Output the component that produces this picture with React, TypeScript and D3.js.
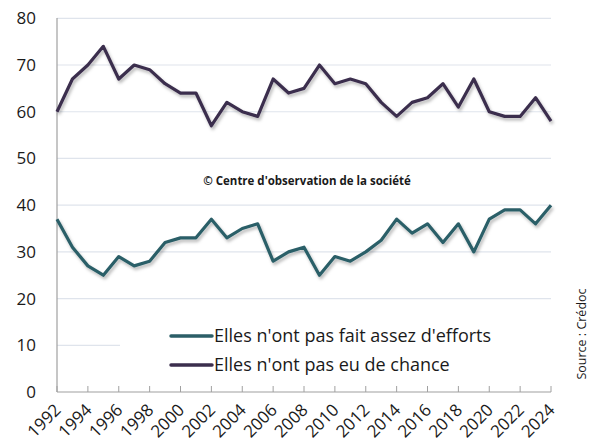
import React from "react";
import * as d3 from "d3";

const years: number[] = [1992,1993,1994,1995,1996,1997,1998,1999,2000,2001,2002,2003,2004,2005,2006,2007,2008,2009,2010,2011,2012,2013,2014,2015,2016,2017,2018,2019,2020,2021,2022,2023,2024];
const effortsValues: number[] = [37,31,27,25,29,27,28,32,33,33,37,33,35,36,28,30,31,25,29,28,30,32.5,37,34,36,32,36,30,37,39,39,36,40];
const chanceValues: number[] = [60,67,70,74,67,70,69,66,64,64,57,62,60,59,67,64,65,70,66,67,66,62,59,62,63,66,61,67,60,59,59,63,58];
const yTicks: number[] = [0,10,20,30,40,50,60,70,80];
const xTickYears: number[] = [1992,1994,1996,1998,2000,2002,2004,2006,2008,2010,2012,2014,2016,2018,2020,2022,2024];
const seriesNames: string[] = ["Elles n'ont pas fait assez d'efforts", "Elles n'ont pas eu de chance"];
const seriesColors: string[] = ["#2b5e67", "#3b2e4d"];

export default function App() {
  const W = 592, H = 443;
  const x = d3.scaleLinear().domain([1992, 2024]).range([57, 551]);
  const y = d3.scaleLinear().domain([0, 80]).range([392, 18.3]);
  const line = d3.line<number>().x((_, i) => x(years[i])).y((v) => y(v));
  const series = [effortsValues, chanceValues];
  const font = "'Open Sans', 'DejaVu Sans', sans-serif";
  return (
    <svg width={W} height={H} style={{ position: "absolute", left: 0, top: 0, background: "#fff" }}>
      <defs>
        <filter id="sh" x="-10%" y="-10%" width="120%" height="130%">
          <feDropShadow dx="1.5" dy="2.5" stdDeviation="1.5" floodColor="#000" floodOpacity="0.28" />
        </filter>
      </defs>
      {yTicks.filter((t) => t > 0).map((t) => (
        <line key={t} x1={57} x2={551} y1={y(t)} y2={y(t)} stroke="#dfe4ec" strokeWidth={1.2} />
      ))}
      {/* legend background covering grid */}
      <rect x={120} y={318} width={440} height={64} fill="#fff" />
      <line x1={57} x2={57} y1={18} y2={392} stroke="#a0a0a0" strokeWidth={1.2} />
      <line x1={57} x2={551} y1={392} y2={392} stroke="#a0a0a0" strokeWidth={1.2} />
      {xTickYears.map((yr) => (
        <line key={yr} x1={x(yr)} x2={x(yr)} y1={392} y2={386} stroke="#a0a0a0" strokeWidth={1} />
      ))}
      {yTicks.map((t) => (
        <text key={t} x={36} y={y(t) + 6} textAnchor="end" fontFamily={font} fontSize={17} fill="#1a1a1a">{t}</text>
      ))}
      {xTickYears.map((yr) => (
        <text key={yr} transform={`translate(${x(yr) + 5},${411}) rotate(-45)`} textAnchor="end" fontFamily={font} fontSize={17} fill="#1a1a1a">{yr}</text>
      ))}
      {series.map((s, i) => (
        <path key={i} d={line(s) || ""} fill="none" stroke={seriesColors[i]} strokeWidth={3.2} strokeLinejoin="round" filter="url(#sh)" />
      ))}
      <text x={307} y={185} textAnchor="middle" fontFamily={font} fontSize={11.5} fontWeight="bold" fill="#1a1a1a">© Centre d'observation de la société</text>
      {seriesNames.map((n, i) => (
        <g key={n}>
          <line x1={171} x2={212} y1={336 + i * 29} y2={336 + i * 29} stroke={seriesColors[i]} strokeWidth={3.5} strokeLinecap="round" />
          <text x={214} y={342 + i * 29} fontFamily={font} fontSize={18} fill="#1a1a1a">{n}</text>
        </g>
      ))}
      <text transform="translate(586,334) rotate(-90)" textAnchor="middle" fontFamily={font} fontSize={12.5} fill="#1a1a1a">Source : Crédoc</text>
    </svg>
  );
}
